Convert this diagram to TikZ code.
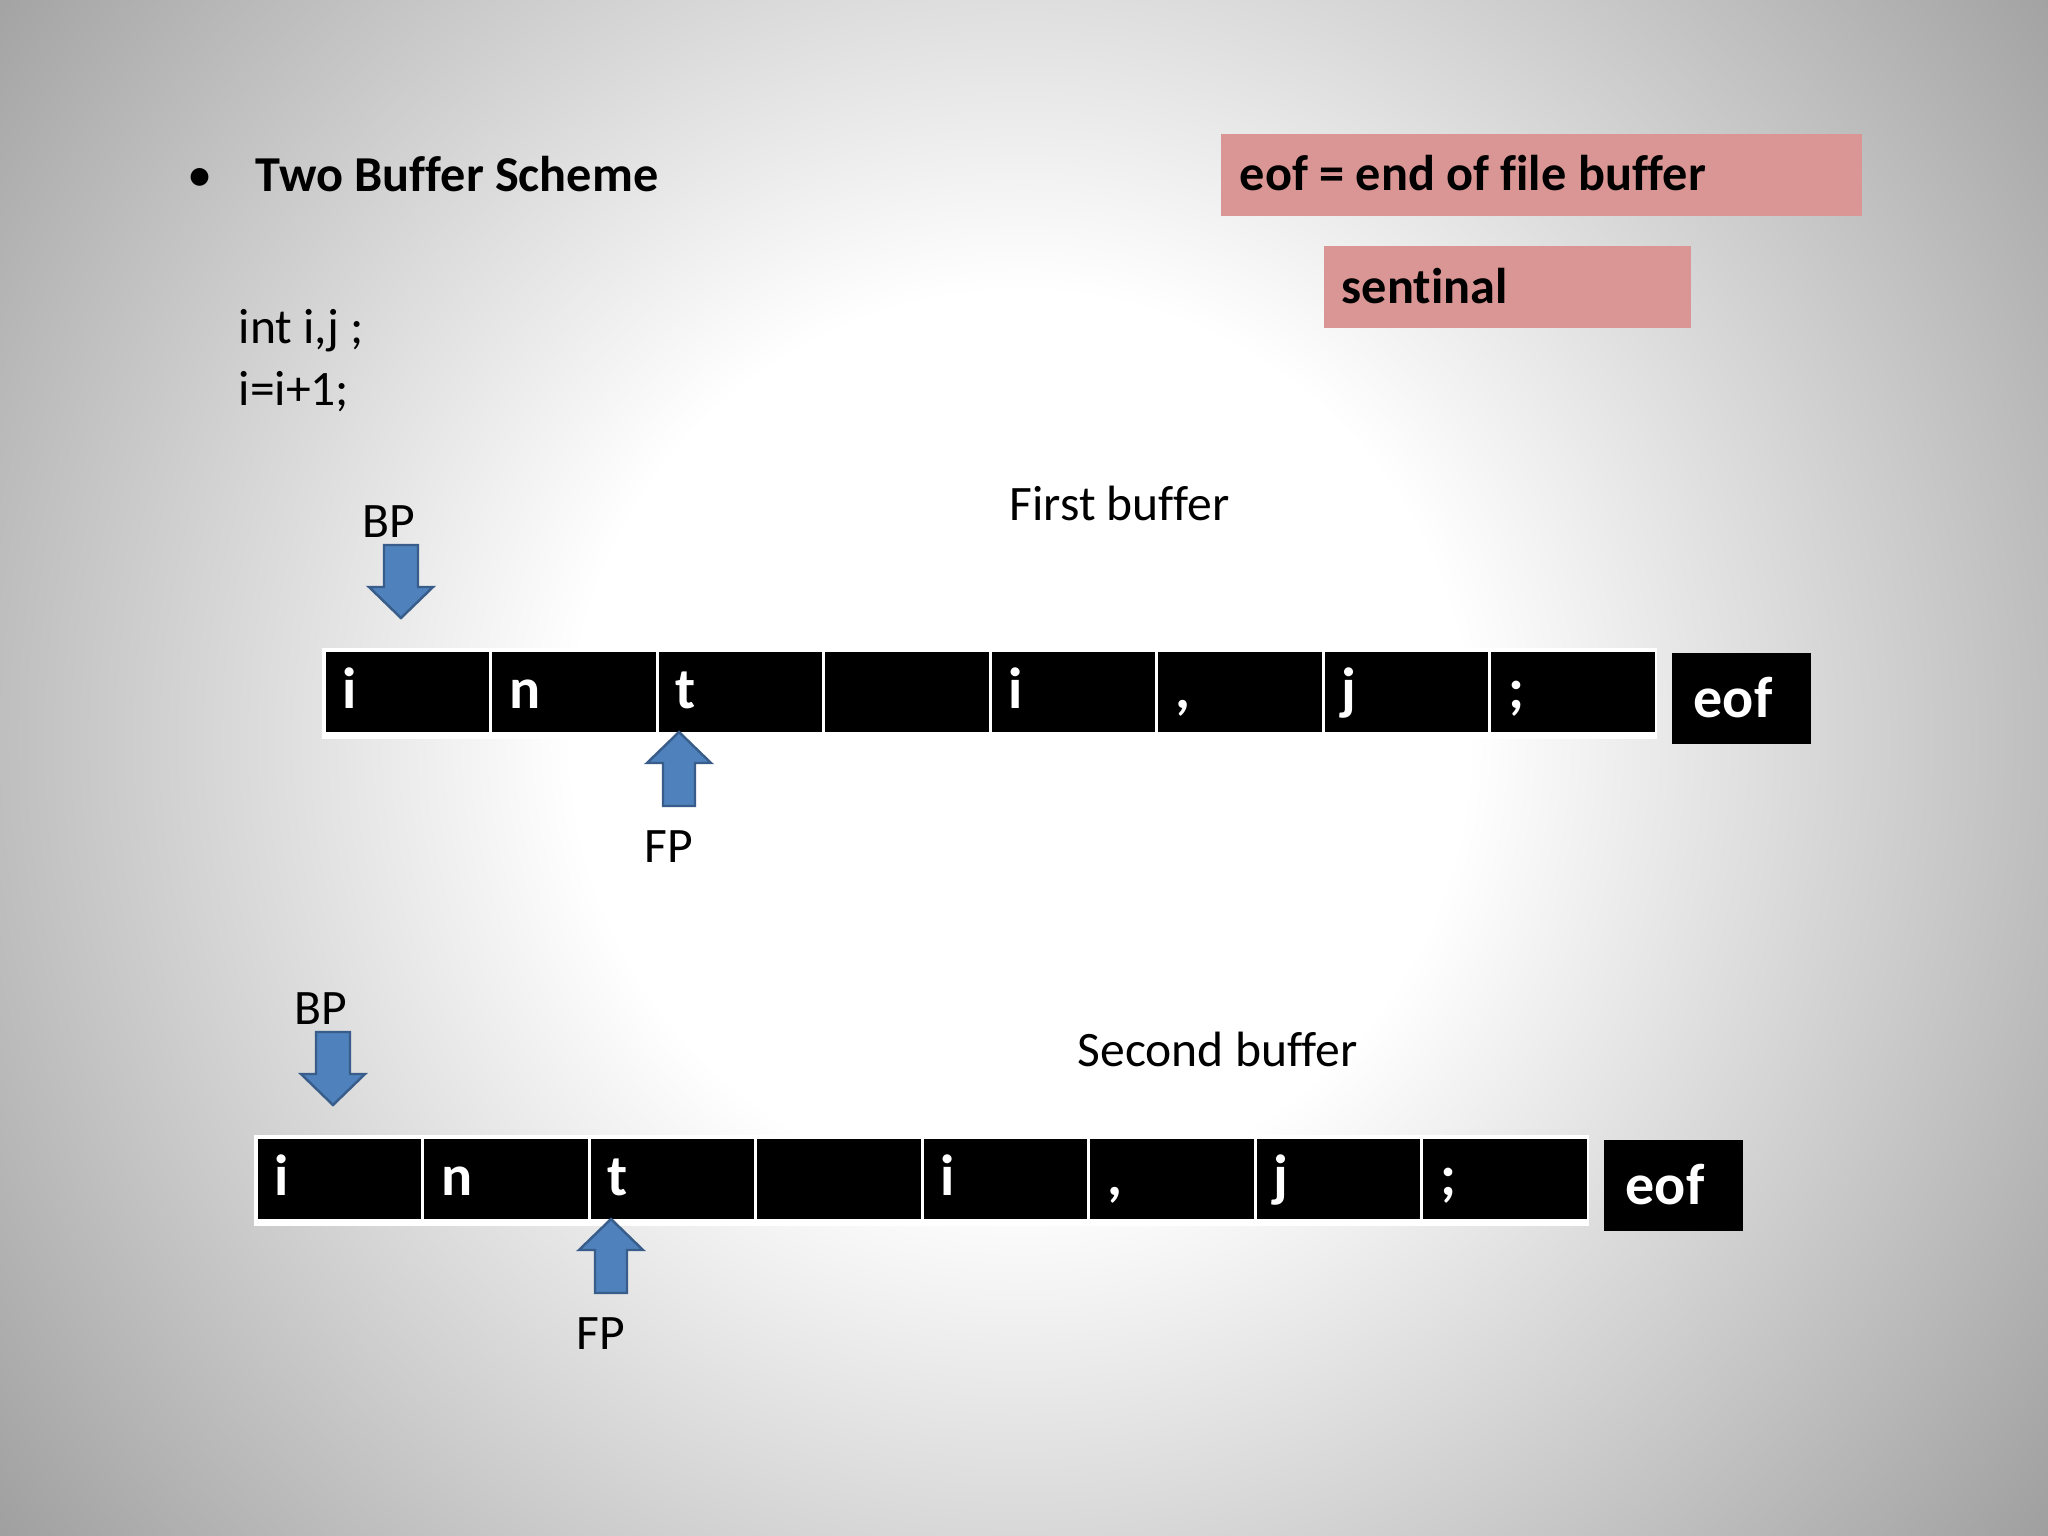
\documentclass[tikz,border=0pt]{standalone}
\usepackage{fontspec}
\setmainfont[Ligatures=NoCommon]{Carlito}
\definecolor{bgout}{HTML}{878787}
\definecolor{arrowfill}{HTML}{4F81BD}
\definecolor{arrowline}{HTML}{385D8A}
\definecolor{pinkfill}{HTML}{D99694}
\pgfdeclareradialshading{slidebg}{\pgfpoint{0bp}{0bp}}{color(0bp)=(white); color(8bp)=(white); color(27bp)=(bgout); color(50bp)=(bgout)}
\tikzset{
  txt/.style={inner sep=0pt, font=\fontsize{14.1}{17}\selectfont, text=black},
  ttl/.style={inner sep=0pt, font=\fontsize{14.3}{17}\selectfont\bfseries, text=black},
  celltxt/.style={inner sep=0pt, font=\fontsize{16.5}{19}\selectfont\bfseries, text=white, anchor=base west},
  cellbox/.style={fill=black, draw=none, inner sep=0pt, minimum width=1.635cm, minimum height=0.80cm, anchor=north west},
  pinkbox/.style={fill=pinkfill, draw=none, inner sep=0pt, anchor=north west},
  blockarrow/.style={fill=arrowfill, draw=arrowline, line width=0.7pt, line join=miter}
}
\newcommand\drawbuffer[1]{%
  \fill[white] (322,648) rectangle (1657,739);
  \foreach \k in {0,...,7} {
    \node[cellbox] (#1c\k) at ({325+166.5*\k},651) {};
  }
  \foreach \k/\c in {0/i,1/n,2/t,4/i,5/{,},6/j,7/;} {
    \node[celltxt] (#1t\k) at ({342+166.5*\k},708) {\c};
  }
  \node[cellbox, minimum width=1.39cm, minimum height=0.91cm] (#1eof) at (1671,652) {};
  \node[celltxt] (#1eoftxt) at (1693,717) {eof};
  % BP pointer
  \node[txt, anchor=base] (#1bp) at (389,537) {BP};
  \draw[blockarrow] (401,618) -- (433,587) -- (418,587) -- (418,545) -- (384,545) -- (384,587) -- (369,587) -- cycle;
  % FP pointer
  \draw[blockarrow] (679,732) -- (711,763) -- (695,763) -- (695,806) -- (663,806) -- (663,763) -- (647,763) -- cycle;
  \node[txt, anchor=base] (#1fp) at (669,862) {FP};
}
\begin{document}
\begin{tikzpicture}[x=0.01cm, y=-0.01cm]
\useasboundingbox (0,0) rectangle (2048,1536);
\begin{scope}
  \clip (0,0) rectangle (2048,1536);
  \shade[shading=slidebg] (-380,-660) rectangle (2420,2140);
\end{scope}

% heading
\node[txt, font=\fontsize{14.3}{17}\selectfont, anchor=base west] (bullet) at (187,191) {•};
\node[ttl, anchor=base west] (title) at (255,191) {Two Buffer Scheme};

% code
\node[txt, anchor=base west] (code1) at (238,343) {int i,j ;};
\node[txt, anchor=base west] (code2) at (238,405) {i=i+1;};

% legend boxes
\node[pinkbox, minimum width=6.41cm, minimum height=0.82cm] (eofbox) at (1220,133) {};
\node[ttl, anchor=base west] (eoftext) at (1239,190) {eof = end of file buffer};
\node[pinkbox, minimum width=3.67cm, minimum height=0.82cm] (sentbox) at (1323,245) {};
\node[ttl, anchor=base west] (senttext) at (1341,303) {sentinal};

% buffer titles
\node[txt, anchor=base west] (firstlabel) at (1009,520) {First buffer};
\node[txt, anchor=base west] (secondlabel) at (1077,1066) {Second buffer};

% buffers
\drawbuffer{a}
\begin{scope}[shift={(-68,487)}]
  \drawbuffer{b}
\end{scope}
\end{tikzpicture}
\end{document}
